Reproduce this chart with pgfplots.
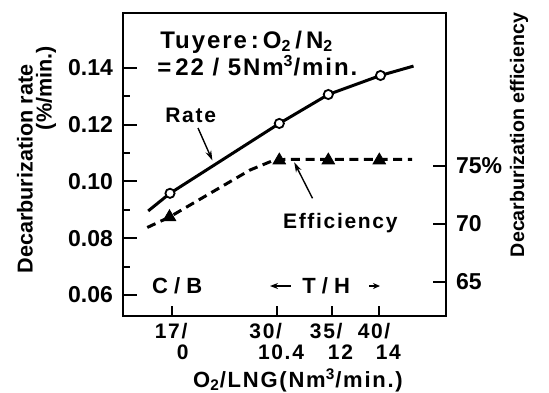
\documentclass[border=0pt]{standalone}
\usepackage{pgfplots}
\pgfplotsset{compat=1.18}
\usepackage{fontspec}
\setmainfont{Liberation Sans}
\newfontfamily\spaced[LetterSpace=8]{Liberation Sans}
\usetikzlibrary{arrows.meta}

\begin{document}
\begin{tikzpicture}
\begin{axis}[name=ax, scale only axis, width=161.5pt, height=151.65pt,
  xmin=123, xmax=446, ymin=0.0526, ymax=0.1594,
  axis line style={line width=1.2pt},
  xtick={171.7,276.7,331.5,379.3},
  xticklabels={{17/\\\hspace*{11pt}0},{30/\\\hspace*{4.3pt}10.4},{35/\\\hspace*{9pt}12},{40/\\\hspace*{9pt}14}},
  xtick pos=left, ytick pos=left,
  tick align=inside,
  scaled y ticks=false,
  ytick={0.06,0.08,0.10,0.12,0.14},
  yticklabels={0.06,0.08,0.10,0.12,0.14},
  minor ytick={0.07,0.09,0.11,0.13},
  major tick length=7pt, minor tick length=3.5pt,
  tick style={line width=1pt, black},
  xtick style={/pgfplots/major tick length=5pt},
  yticklabel style={font=\fontsize{11.5}{13}\selectfont\bfseries, xshift=-1.5pt},
  xticklabel style={font=\fontsize{10.5}{10.5}\selectfont\bfseries\spaced, align=left},
  clip=false]
\addplot[line width=1.5pt, black] coordinates {
  (148.2,0.0896) (170,0.0958) (279.3,0.1204) (328.3,0.1306) (380.5,0.1373) (413.5,0.1406)};
\addplot[only marks, mark=*, mark size=2.3pt, mark options={fill=white, draw=black, line width=0.9pt}] coordinates {
  (170,0.0958) (279.3,0.1204) (328.3,0.1306) (380.5,0.1373)};
\end{axis}
\begin{axis}[scale only axis, width=161.5pt, height=151.65pt,
  xmin=123, xmax=446, ymin=62.03, ymax=88.17,
  axis x line=none, axis y line*=right,
  axis line style={line width=1.2pt},
  ytick={65,70,75}, yticklabels={65,70,75\%},
  tick align=inside, major tick length=6.5pt,
  tick style={line width=1pt, black},
  yticklabel style={font=\fontsize{11.5}{13}\selectfont\bfseries, xshift=1.5pt},
  clip=false]
\addplot[line width=1.5pt, black, dash pattern=on 4.5pt off 2.8pt] coordinates {
  (147.3,69.66) (169.5,70.56) (250,74.61) (272,75.39) (285,75.53) (412,75.53)};
\addplot[only marks, mark=triangle*, mark size=3.6pt, black] coordinates {
  (169.5,70.56) (279.3,75.45) (328.3,75.45) (379.3,75.45)};
\end{axis}
\begin{scope}[shift={(ax.south west)}, x=0.5pt, y=-0.5pt, shift={(-123,-316)}]
\node[anchor=base west, inner sep=0pt, font=\fontsize{12}{14}\selectfont\bfseries\spaced] at (160,48.3) {Tuyere\,:\,O\textsubscript{2}\,/\,N\textsubscript{2}};
\node[anchor=base west, inner sep=0pt, font=\fontsize{12}{14}\selectfont\bfseries\spaced] at (157,75) {=\,22 / 5Nm\textsuperscript{3}/min.};
\node[anchor=base west, inner sep=0pt, font=\fontsize{10.5}{12}\selectfont\bfseries\spaced] at (165,122.7) {Rate};
\node[anchor=base west, inner sep=0pt, font=\fontsize{10.5}{12}\selectfont\bfseries\spaced] at (282.7,228) {Efficiency};
\node[anchor=base west, inner sep=0pt, font=\fontsize{11}{12}\selectfont\bfseries] at (151.7,293) {C / B};
\node[anchor=base west, inner sep=0pt, font=\fontsize{11}{12}\selectfont\bfseries] at (302,293) {T / H};
\draw[line width=0.8pt, {Stealth[length=4pt,width=3pt]}-] (270,286) -- (291,286);
\draw[line width=0.8pt, -{Stealth[length=3.5pt,width=3pt]}] (369,286) -- (380,286);
\draw[line width=0.7pt, -{Stealth[length=5pt,width=3pt]}] (198,128) -- (212.4,160.5);
\draw[line width=0.7pt, -{Stealth[length=5pt,width=3pt]}] (312.5,198.3) -- (294.2,162.3);
\node[rotate=90, inner sep=0pt, font=\fontsize{10.8}{12}\selectfont\bfseries] at (25,169) {Decarburization rate};
\node[rotate=90, inner sep=0pt, font=\fontsize{10.8}{12}\selectfont\bfseries] at (46,88) {(\%/min.)};
\node[rotate=90, inner sep=0pt, font=\fontsize{9.8}{12}\selectfont\bfseries] at (519,135) {Decarburization efficiency};
\node[anchor=base, inner sep=0pt, font=\fontsize{11}{13}\selectfont\bfseries\spaced] at (298,387) {O\textsubscript{2}/LNG(Nm\textsuperscript{3}/min.)};
\pgfresetboundingbox
\path[use as bounding box] (0,0) rectangle (549,392);
\end{scope}
\end{tikzpicture}
\end{document}
